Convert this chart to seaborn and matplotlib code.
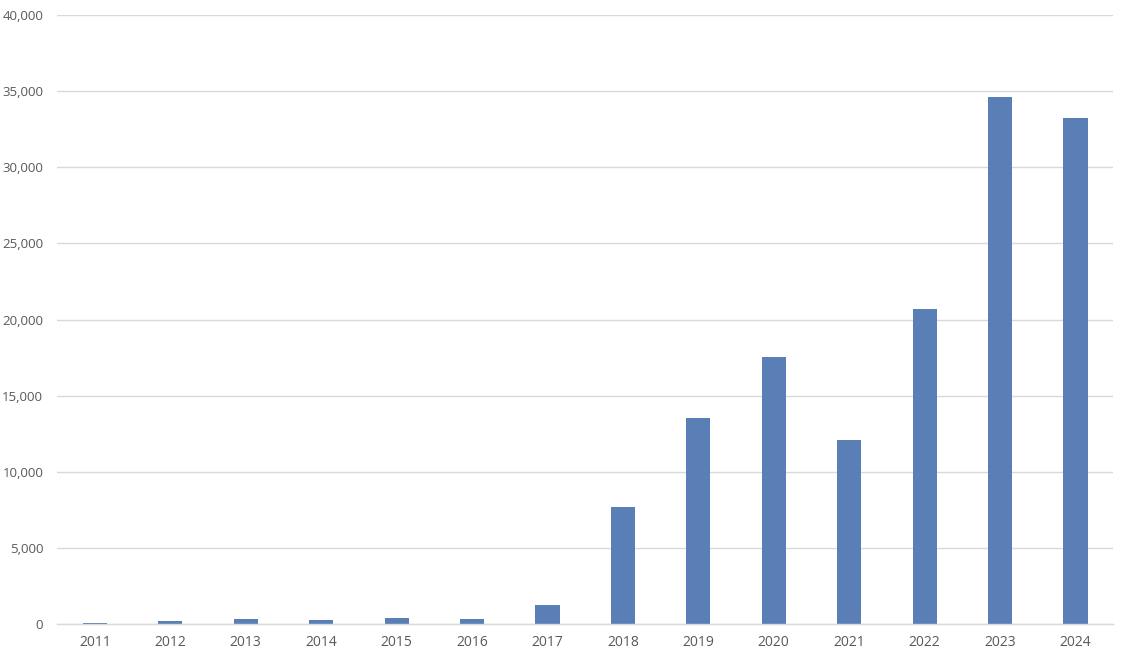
import matplotlib
matplotlib.use("Agg")
import matplotlib.pyplot as plt
import seaborn as sns
import pandas as pd
from matplotlib.ticker import FuncFormatter, MultipleLocator

years = ['2011', '2012', '2013', '2014', '2015', '2016', '2017',
         '2018', '2019', '2020', '2021', '2022', '2023', '2024']
values = [50, 220, 310, 260, 410, 330, 1250,
          7680, 13530, 17540, 12090, 20690, 34610, 33230]

df = pd.DataFrame({'year': years, 'value': values})

sns.set_style('white')
plt.rcParams['font.family'] = ['Open Sans', 'DejaVu Sans']

fig = plt.figure(figsize=(11.21, 6.6), dpi=100)
ax = fig.add_axes([0.051, 0.0545, 0.942, 0.9225])

sns.barplot(data=df, x='year', y='value', color='#5a7fb7', saturation=1,
            width=0.32, linewidth=0, ax=ax)

ax.set_ylim(0, 40000)
ax.yaxis.set_major_locator(MultipleLocator(5000))
ax.yaxis.set_major_formatter(FuncFormatter(lambda v, p: f'{int(v):,}'))
ax.grid(axis='y', color='#d9d9d9', linewidth=1)
ax.set_axisbelow(True)
ax.set_xlim(-0.5, len(years) - 0.5)

for s in ['top', 'right', 'left']:
    ax.spines[s].set_visible(False)
ax.spines['bottom'].set_color('#d9d9d9')
ax.spines['bottom'].set_linewidth(1)

ax.tick_params(axis='both', length=0, labelcolor='#595959')
ax.tick_params(axis='x', pad=8, labelsize=10)
ax.tick_params(axis='y', pad=10, labelsize=9.5)
ax.set_xlabel('')
ax.set_ylabel('')

fig.savefig('out.png', dpi=100)
